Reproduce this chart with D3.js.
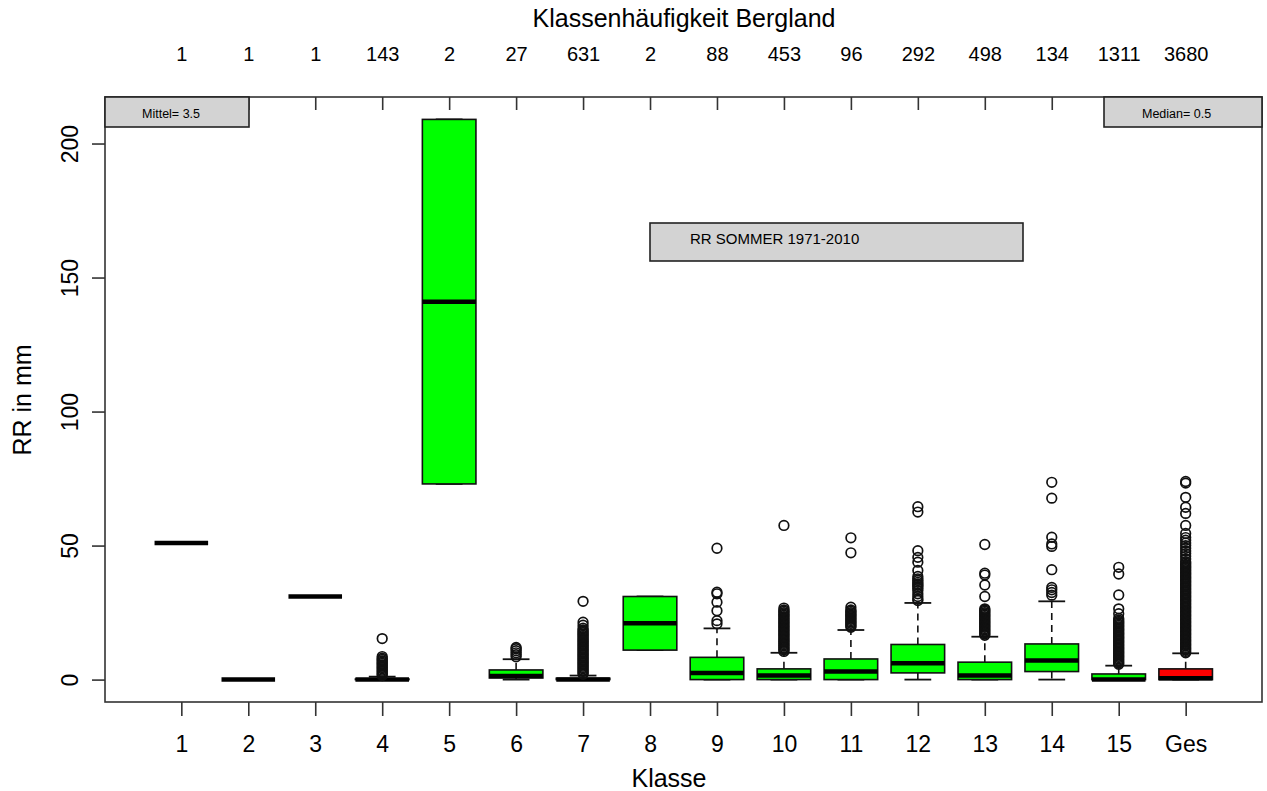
<!DOCTYPE html>
<html>
<head>
<meta charset="utf-8">
<script src="https://cdn.jsdelivr.net/npm/d3@7"></script>
<style>
  body { margin: 0; background: #fff; }
  text { font-family: "Liberation Sans", Arial, sans-serif; fill: #000; }
</style>
</head>
<body>
<div id="chart"></div>
<script>
// class labels and counts (top axis)
var classes = ['1','2','3','4','5','6','7','8','9','10','11','12','13','14','15','Ges'];
var counts = [1, 1, 1, 143, 2, 27, 631, 2, 88, 453, 96, 292, 498, 134, 1311, 3680];

// box statistics (mm)
var whiskLo = [51, 0, 31, 0,   73,  0,   0,   11, 0,   0,   0,   0,    0,   0,    0,   0];
var q1      = [51, 0, 31, 0,   73,  0.6, 0,   11, 0,   0,   0,   2.5,  0,   3,    0,   0];
var median  = [51, 0, 31, 0,   141, 1.3, 0,   21, 2.5, 1.5, 3,   6.1,  1.5, 7.1,  0,   0.5];
var q3      = [51, 0, 31, 0.2, 209, 3.6, 0.5, 31, 8.3, 4,   7.7, 13.1, 6.5, 13.3, 2.1, 4];
var whiskHi = [51, 0, 31, 1.1, 209, 7.6, 1.5, 31, 19.1, 10, 18.5, 28.6, 16, 29.2, 5.2, 9.8];

// outliers per class
var out4 = [1.5, 2, 2.5, 3, 3.5, 4, 4.5, 5, 5.5, 6, 6.5, 7, 7.5, 8, 8.6, 15.3];
var out6 = [8.5, 9.3, 10, 10.8, 11.5, 12];
var out7 = [2, 2.5, 3, 3.5, 4, 4.5, 5, 5.5, 6, 6.5, 7, 7.5, 8, 8.5, 9, 9.5, 10, 10.5, 11, 11.5, 12, 12.5, 13, 13.5,
            14, 14.5, 15, 15.5, 16, 16.5, 17, 17.5, 18, 18.5, 19.2, 20.3, 21.4, 29.2];
var out9 = [20.8, 22, 25.7, 28.9, 32, 32.6, 49];
var out10 = [10.5, 11, 11.5, 12, 12.5, 13, 13.5, 14, 14.5, 15, 15.5, 16, 16.5, 17, 17.5, 18, 18.5, 19, 19.5, 20,
             20.5, 21, 21.5, 22, 22.5, 23, 23.5, 24, 24.5, 25, 25.5, 26, 26.7, 57.5];
var out11 = [19.5, 20, 20.5, 21, 21.5, 22, 22.5, 23, 23.5, 24, 24.5, 25, 25.5, 26, 27, 47.3, 52.9];
var out12 = [29.5, 30.1, 31, 32, 33.2, 34, 34.6, 35.2, 35.7, 36.3, 37, 37.6, 38.5, 40.7, 43.8, 45.6, 48.1, 62.5, 64.5];
var out13 = [16.5, 17, 17.5, 18, 18.5, 19, 19.5, 20, 20.5, 21, 21.5, 22, 22.5, 23, 23.5, 24, 24.5, 25, 25.5, 26,
             26.4, 31, 35.3, 39, 39.7, 50.4];
var out14 = [31.5, 32.5, 33.5, 34.4, 41, 49.7, 50.6, 53.1, 67.7, 73.6];
var out15 = [5.7, 6.2, 6.7, 7.2, 7.7, 8.2, 8.7, 9.2, 9.7, 10.2, 10.7, 11.2, 11.7, 12.2, 12.7, 13.2, 13.7, 14.2,
             14.7, 15.2, 15.7, 16.2, 16.7, 17.2, 17.7, 18.2, 18.7, 19.2, 19.7, 20.2, 20.7, 21.2, 21.7, 22.2,
             22.8, 24.6, 26.4, 31.6, 39.4, 41.9];
var outGes = [10, 10.5, 11, 11.5, 12, 12.5, 13, 13.5, 14, 14.5, 15, 15.5, 16, 16.5, 17, 17.5, 18, 18.5, 19, 19.5,
              20, 20.5, 21, 21.5, 22, 22.5, 23, 23.5, 24, 24.5, 25, 25.5, 26, 26.5, 27, 27.5, 28, 28.5, 29, 29.5,
              30, 30.5, 31, 31.5, 32, 32.5, 33, 33.5, 34, 34.5, 35, 35.5, 36, 36.5, 37, 37.5, 38, 38.5, 39, 39.5,
              40, 40.5, 41, 41.5, 42, 42.5, 43, 43.5, 44, 45, 46, 47, 48, 49, 50, 51, 52, 53, 54.5, 57.5, 62,
              64.3, 68, 73.3, 73.9];
var outliers = [[], [], [], out4, [], out6, out7, [], out9, out10, out11, out12, out13, out14, out15, outGes];

var yTicks = [0, 50, 100, 150, 200];

var width = 1267, height = 791;
// plot region (named so as not to clash with window.top)
var plotL = 105, plotR = 1262, plotT = 97, plotB = 702;
var font = '"Liberation Sans", Arial, sans-serif';

var svg = d3.select('#chart').append('svg')
  .attr('width', width)
  .attr('height', height);

// R style: xlim 0.5..16.5 plus 4% each side
var x = d3.scaleLinear().domain([0.5 - 0.64, 16.5 + 0.64]).range([plotL, plotR]);
var y = d3.scaleLinear().domain([-8.36, 217.36]).range([plotB, plotT]);

var boxW = x(0.8) - x(0);
var capW = boxW / 2;

var groups = svg.append('g').selectAll('g')
  .data(classes)
  .enter().append('g')
  .attr('transform', function (d, i) { return 'translate(' + x(i + 1) + ',0)'; });

// whiskers (dashed)
groups.append('line')
  .attr('y1', function (d, i) { return y(q3[i]); })
  .attr('y2', function (d, i) { return y(whiskHi[i]); })
  .attr('stroke', '#111').attr('stroke-width', 1.6).attr('stroke-dasharray', '7,5');
groups.append('line')
  .attr('y1', function (d, i) { return y(q1[i]); })
  .attr('y2', function (d, i) { return y(whiskLo[i]); })
  .attr('stroke', '#111').attr('stroke-width', 1.6).attr('stroke-dasharray', '7,5');

// staples
[whiskHi, whiskLo].forEach(function (arr) {
  groups.append('line')
    .attr('x1', -capW / 2).attr('x2', capW / 2)
    .attr('y1', function (d, i) { return y(arr[i]); })
    .attr('y2', function (d, i) { return y(arr[i]); })
    .attr('stroke', '#111').attr('stroke-width', 1.8);
});

// boxes
groups.append('rect')
  .attr('x', -boxW / 2)
  .attr('width', boxW)
  .attr('y', function (d, i) { return y(q3[i]); })
  .attr('height', function (d, i) { return y(q1[i]) - y(q3[i]); })
  .attr('fill', function (d) { return d === 'Ges' ? '#ff0000' : '#00ff00'; })
  .attr('stroke', '#111').attr('stroke-width', 1.6);

// medians
groups.append('line')
  .attr('x1', -boxW / 2).attr('x2', boxW / 2)
  .attr('y1', function (d, i) { return y(median[i]); })
  .attr('y2', function (d, i) { return y(median[i]); })
  .attr('stroke', '#000').attr('stroke-width', 4.5);

// outliers
groups.selectAll('circle')
  .data(function (d, i) { return outliers[i]; })
  .enter().append('circle')
  .attr('cx', 0)
  .attr('cy', function (v) { return y(v); })
  .attr('r', 4.8)
  .attr('fill', 'none')
  .attr('stroke', '#111')
  .attr('stroke-width', 1.7);

// frame
svg.append('rect')
  .attr('x', plotL).attr('y', plotT)
  .attr('width', plotR - plotL).attr('height', plotB - plotT)
  .attr('fill', 'none').attr('stroke', '#333').attr('stroke-width', 1.6);

// bottom axis
var xAxis = d3.axisBottom(x)
  .tickValues(d3.range(1, 17))
  .tickFormat(function (d) { return classes[d - 1]; })
  .tickSize(14).tickPadding(20);
var gx = svg.append('g').attr('transform', 'translate(0,' + plotB + ')').call(xAxis);
gx.select('.domain').remove();
gx.selectAll('.tick line').attr('stroke', '#333').attr('stroke-width', 1.6);
gx.selectAll('text').attr('font-size', 23).attr('font-family', font);

// top axis: counts, ticks pointing inward
var topAxis = d3.axisTop(x)
  .tickValues(d3.range(1, 17))
  .tickFormat(function (d) { return counts[d - 1]; })
  .tickSize(-13).tickPadding(36);
var gt = svg.append('g').attr('transform', 'translate(0,' + plotT + ')').call(topAxis);
gt.select('.domain').remove();
gt.selectAll('.tick line').attr('stroke', '#333').attr('stroke-width', 1.6);
gt.selectAll('text').attr('font-size', 20).attr('font-family', font);

// left axis
var yAxis = d3.axisLeft(y).tickValues(yTicks).tickSize(13).tickPadding(0);
var gy = svg.append('g').attr('transform', 'translate(' + plotL + ',0)').call(yAxis);
gy.select('.domain').remove();
gy.selectAll('.tick line').attr('stroke', '#333').attr('stroke-width', 1.6);
gy.selectAll('.tick text')
  .attr('font-size', 23)
  .attr('font-family', font)
  .attr('x', null).attr('dy', null)
  .attr('text-anchor', 'middle')
  .attr('transform', 'translate(-27,0) rotate(-90)');

// legend-like boxes (drawn over the frame ticks)
function labelBox(x0, y0, w, h, txt, tx, ty, size) {
  svg.append('rect')
    .attr('x', x0).attr('y', y0).attr('width', w).attr('height', h)
    .attr('fill', '#d3d3d3').attr('stroke', '#222').attr('stroke-width', 1.6);
  svg.append('text')
    .attr('x', tx).attr('y', ty)
    .attr('font-size', size)
    .attr('dominant-baseline', 'middle')
    .text(txt);
}
labelBox(plotL, plotT, 144, 30, 'Mittel= 3.5', 142, 115, 12.5);
labelBox(1104, plotT, plotR - 1104, 30, 'Median= 0.5', 1142, 115, 12.5);
labelBox(650, 223, 373, 38, 'RR SOMMER 1971-2010', 690, 240, 15);

// titles
svg.append('text').attr('x', 684).attr('y', 27).attr('text-anchor', 'middle')
  .attr('font-size', 25).text('Klassenhäufigkeit Bergland');
svg.append('text').attr('x', 669).attr('y', 787).attr('text-anchor', 'middle')
  .attr('font-size', 25).text('Klasse');
svg.append('text').attr('transform', 'translate(31,400) rotate(-90)').attr('text-anchor', 'middle')
  .attr('font-size', 25).text('RR in mm');
</script>
</body>
</html>
